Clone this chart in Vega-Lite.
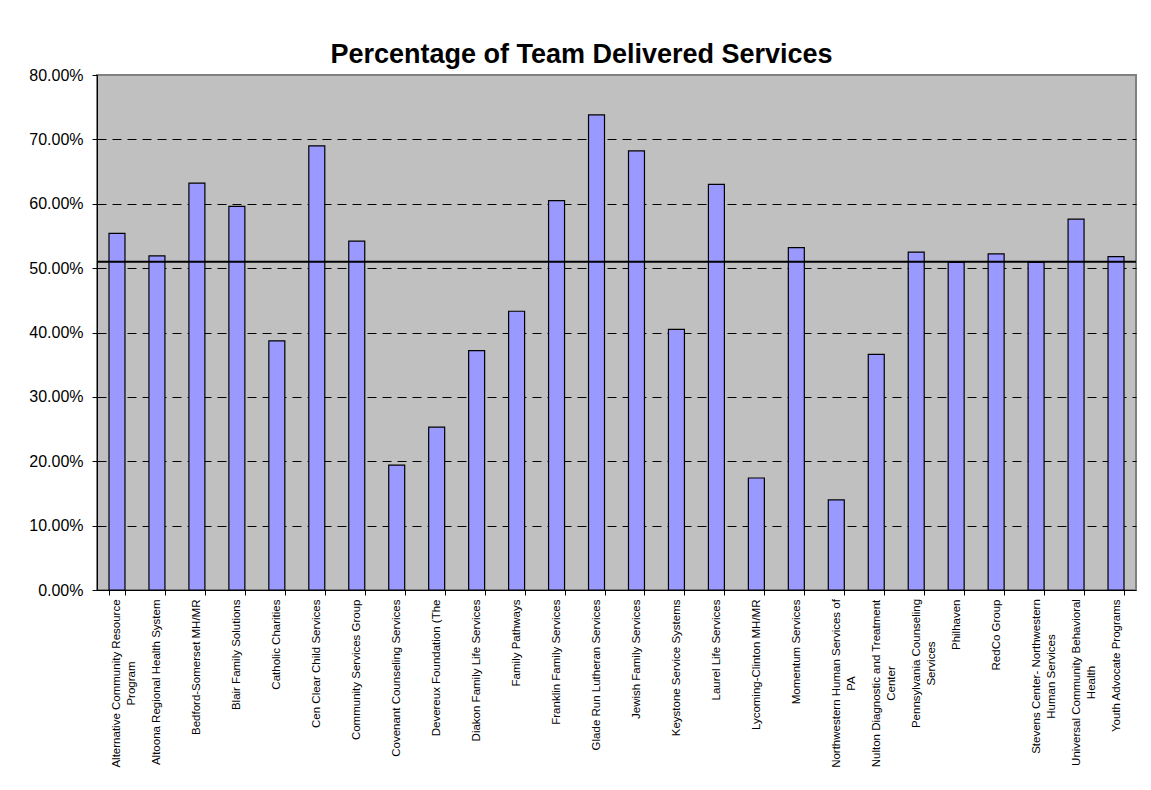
{
  "$schema": "https://vega.github.io/schema/vega-lite/v6.json",
  "width": 1039,
  "height": 515,
  "autosize": {"type": "none"},
  "padding": {"left": 97, "top": 75, "right": 15, "bottom": 200},
  "background": "white",
  "title": {
    "text": "Percentage of Team Delivered Services",
    "font": "Liberation Sans",
    "fontSize": 27,
    "fontWeight": "bold",
    "color": "black",
    "anchor": "middle",
    "dx": -35,
    "dy": 36,
    "offset": 13,
    "baseline": "alphabetic"
  },
  "config": {
    "view": {"fill": "#C0C0C0", "stroke": "#808080", "strokeWidth": 2}
  },
  "datasets": {
    "agencies": [
      {"agency": "Alternative Community Resource Program", "pct": 0.554},
      {"agency": "Altoona Regional Health System", "pct": 0.519},
      {"agency": "Bedford-Somerset MH/MR", "pct": 0.632},
      {"agency": "Blair Family Solutions", "pct": 0.596},
      {"agency": "Catholic Charities", "pct": 0.387},
      {"agency": "Cen Clear Child Services", "pct": 0.690},
      {"agency": "Community Services Group", "pct": 0.542},
      {"agency": "Covenant Counseling Services", "pct": 0.194},
      {"agency": "Devereux Foundation (The", "pct": 0.253},
      {"agency": "Diakon Family Life Services", "pct": 0.372},
      {"agency": "Family Pathways", "pct": 0.433},
      {"agency": "Franklin Family Services", "pct": 0.605},
      {"agency": "Glade Run Lutheran Services", "pct": 0.738},
      {"agency": "Jewish Family Services", "pct": 0.682},
      {"agency": "Keystone Service Systems", "pct": 0.405},
      {"agency": "Laurel Life Services", "pct": 0.630},
      {"agency": "Lycoming-Clinton MH/MR", "pct": 0.174},
      {"agency": "Momentum Services", "pct": 0.532},
      {"agency": "Northwestern Human Services of PA", "pct": 0.140},
      {"agency": "Nulton Diagnostic and Treatment Center", "pct": 0.366},
      {"agency": "Pennsylvania Counseling Services", "pct": 0.525},
      {"agency": "Philhaven", "pct": 0.509},
      {"agency": "RedCo Group", "pct": 0.522},
      {"agency": "Stevens Center- Northwestern Human Services", "pct": 0.509},
      {"agency": "Universal Community Behavioral Health", "pct": 0.576},
      {"agency": "Youth Advocate Programs", "pct": 0.518}
    ],
    "reference": [
      {"value": 0.510}
    ]
  },
  "layer": [
    {
      "data": {"name": "agencies"},
      "mark": {"type": "bar", "fill": "#9999FF", "stroke": "black", "strokeWidth": 1.2},
      "encoding": {
        "x": {
          "field": "agency",
          "type": "nominal",
          "sort": null,
          "scale": {"paddingInner": 0.6, "paddingOuter": 0.3},
          "axis": {
            "title": null,
            "labelAngle": -90,
            "tickBand": "extent",
            "tickSize": 5,
            "tickColor": "black",
            "domainColor": "black",
            "labelFont": "Liberation Sans",
            "labelFontSize": 11.5,
            "labelColor": "black",
            "labelLineHeight": 15,
            "labelLimit": 0,
            "labelOverlap": false,
            "labelBound": false,
            "labelExpr": "datum.value == 'Alternative Community Resource Program' ? ['Alternative Community Resource', 'Program'] : datum.value == 'Northwestern Human Services of PA' ? ['Northwestern Human Services of', 'PA'] : datum.value == 'Nulton Diagnostic and Treatment Center' ? ['Nulton Diagnostic and Treatment', 'Center'] : datum.value == 'Pennsylvania Counseling Services' ? ['Pennsylvania Counseling', 'Services'] : datum.value == 'Stevens Center- Northwestern Human Services' ? ['Stevens Center- Northwestern', 'Human Services'] : datum.value == 'Universal Community Behavioral Health' ? ['Universal Community Behavioral', 'Health'] : datum.label",
            "labelAlign": {
              "condition": {
                "test": "indexof(['Alternative Community Resource Program', 'Northwestern Human Services of PA', 'Nulton Diagnostic and Treatment Center', 'Pennsylvania Counseling Services', 'Stevens Center- Northwestern Human Services', 'Universal Community Behavioral Health'], datum.value) >= 0",
                "value": "center"
              },
              "value": "right"
            },
            "labelPadding": {
              "condition": [
                {"test": "datum.value == 'Alternative Community Resource Program'", "value": 88},
                {"test": "datum.value == 'Northwestern Human Services of PA'", "value": 88},
                {"test": "datum.value == 'Nulton Diagnostic and Treatment Center'", "value": 88},
                {"test": "datum.value == 'Pennsylvania Counseling Services'", "value": 68},
                {"test": "datum.value == 'Stevens Center- Northwestern Human Services'", "value": 81},
                {"test": "datum.value == 'Universal Community Behavioral Health'", "value": 87}
              ],
              "value": 4
            }
          }
        },
        "y": {
          "field": "pct",
          "type": "quantitative",
          "scale": {"domain": [0, 0.8], "nice": false},
          "axis": {
            "title": null,
            "values": [0, 0.1, 0.2, 0.3, 0.4, 0.5, 0.6, 0.7, 0.8],
            "format": ".2%",
            "labelFont": "Liberation Sans",
            "labelFontSize": 16,
            "labelColor": "black",
            "labelPadding": 9,
            "tickSize": 5,
            "tickColor": "black",
            "domainColor": "black",
            "grid": true,
            "gridColor": "black",
            "gridDash": [9, 6],
            "gridWidth": 1,
            "gridOpacity": {
              "condition": {"test": "datum.value > 0.79 || datum.value < 0.001", "value": 0},
              "value": 1
            }
          }
        }
      }
    },
    {
      "data": {"name": "reference"},
      "mark": {"type": "rule", "color": "black", "strokeWidth": 2},
      "encoding": {
        "y": {"field": "value", "type": "quantitative"}
      }
    }
  ]
}
